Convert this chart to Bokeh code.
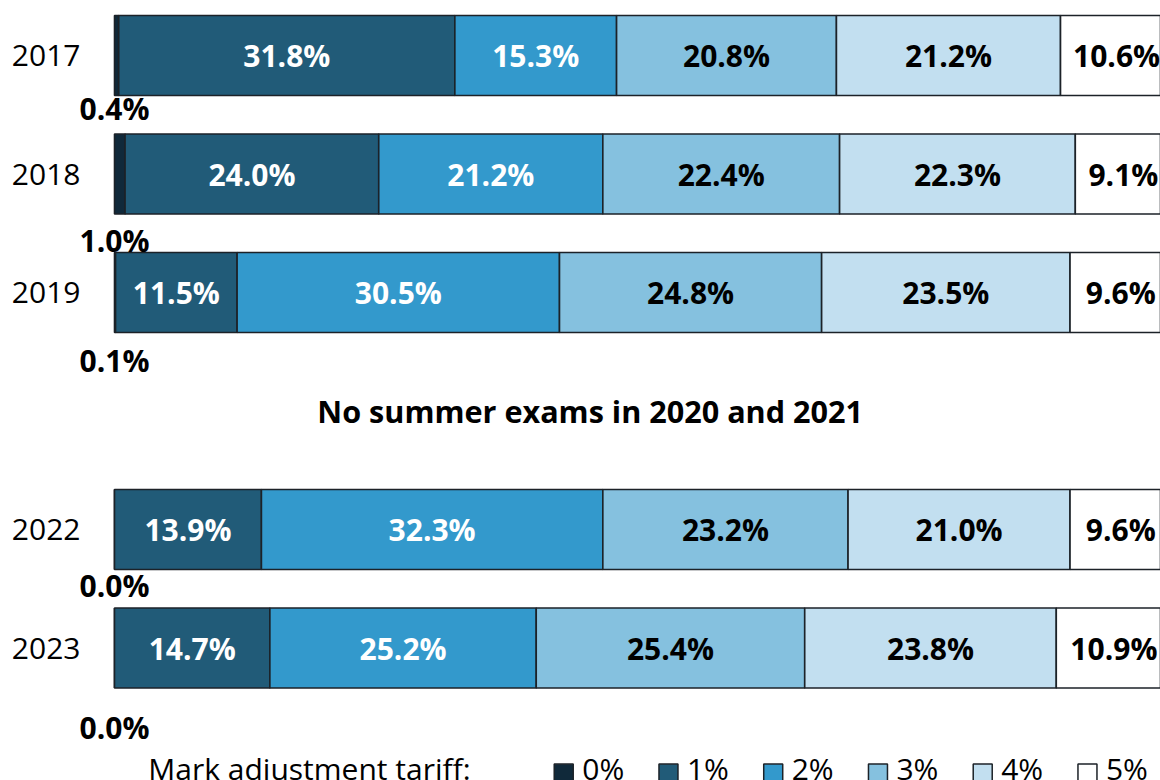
import numpy as np
from bokeh.plotting import figure
from bokeh.models import Range1d, ColumnDataSource
from bokeh.core.properties import value
from bokeh.embed import file_html
from bokeh.resources import INLINE

years = ["2017", "2018", "2019", "2022", "2023"]
slots = [0, 1, 2, 4, 5]
tariffs = ["0%", "1%", "2%", "3%", "4%", "5%"]
colors = ["#10293a", "#215b78", "#3399cc", "#85c1df", "#c2dff0", "#ffffff"]
label_colors = ["black", "white", "white", "black", "black", "black"]
share_0 = [0.4, 1.0, 0.1, 0.0, 0.0]
share_1 = [31.8, 24.0, 11.5, 13.9, 14.7]
share_2 = [15.3, 21.2, 30.5, 32.3, 25.2]
share_3 = [20.8, 22.4, 24.8, 23.2, 25.4]
share_4 = [21.2, 22.3, 23.5, 21.0, 23.8]
share_5 = [10.6, 9.1, 9.6, 9.6, 10.9]
zero_label_offset = [0.45, 0.56, 0.575, 0.47, 0.675]
gap_note = "No summer exams in 2020 and 2021"
gap_slot = 3
legend_title = "Mark adjustment tariff:"

shares = np.array([share_0, share_1, share_2, share_3, share_4, share_5])

W, H = 1160, 780
PX_X = 10.57   # px per percentage point
PX_Y = 118.5   # px per bar slot
X0, Y0 = 114, 55
FONT = value("Open Sans")
p = figure(width=W, height=H, output_backend="svg", toolbar_location=None,
           x_range=Range1d(-X0 / PX_X, (W - X0) / PX_X),
           y_range=Range1d((H - Y0) / PX_Y, -Y0 / PX_Y),
           min_border=0, min_border_left=0, min_border_right=0,
           min_border_top=0, min_border_bottom=0)
p.axis.visible = False
p.grid.visible = False
p.outline_line_color = None
p.background_fill_color = "white"

left = np.zeros(len(years))
for i, t in enumerate(tariffs):
    right = left + shares[i]
    src = ColumnDataSource(dict(y=slots, left=left, right=right,
                                mid=(left + right) / 2,
                                lab=[f"{v:.1f}%" for v in shares[i]]))
    p.hbar(y="y", left="left", right="right", height=0.675, source=src,
           fill_color=colors[i], line_color="#1c2228", line_width=1.6)
    if i > 0:
        p.text(x="mid", y="y", text="lab", source=src, text_font=FONT,
               text_font_style="bold", text_font_size="30px",
               text_color=label_colors[i], text_align="center",
               text_baseline="middle")
    left = right

# 0% labels placed below bars
zsrc = ColumnDataSource(dict(x=[0.0] * len(years),
                             y=[s + o for s, o in zip(slots, zero_label_offset)],
                             lab=[f"{v:.1f}%" for v in share_0]))
p.text(x="x", y="y", text="lab", source=zsrc, text_font=FONT,
       text_font_style="bold", text_font_size="30px", text_color="black",
       text_align="center", text_baseline="middle")

# year labels
ysrc = ColumnDataSource(dict(x=[-3.22] * len(years), y=slots, lab=years))
p.text(x="x", y="y", text="lab", source=ysrc, text_font=FONT,
       text_font_size="30px", text_color="black", text_align="right",
       text_baseline="middle")

# gap note
p.text(x=[45.0], y=[gap_slot], text=[gap_note], text_font=FONT,
       text_font_style="bold", text_font_size="30.6px", text_color="black",
       text_align="center", text_baseline="middle")

# legend
leg_y = 6.02
p.text(x=[3.2], y=[leg_y], text=[legend_title], text_font=FONT,
       text_font_size="30px", text_color="black", text_align="left",
       text_baseline="middle")
lx = [42.5 + 9.91 * i for i in range(len(tariffs))]
p.scatter(x=lx, y=[leg_y + 0.04] * len(tariffs), marker="square", size=19,
          fill_color=colors, line_color="#1c2228", line_width=1.5)
p.text(x=[v + 1.75 for v in lx], y=[leg_y] * len(tariffs), text=tariffs,
       text_font=FONT, text_font_size="30px", text_color="black",
       text_align="left", text_baseline="middle")

open("out.html", "w").write(file_html(p, INLINE))
